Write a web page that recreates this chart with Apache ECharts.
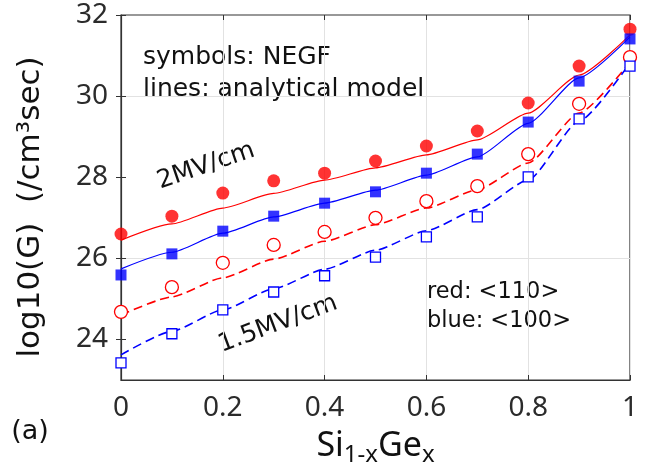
<!DOCTYPE html>
<html>
<head>
<meta charset="utf-8">
<script src="https://cdn.jsdelivr.net/npm/echarts@6/dist/echarts.min.js"></script>
<style>
  body { margin: 0; background: #fff; }
  #chart { width: 660px; height: 470px; }
</style>
</head>
<body>
<div id="chart"></div>
<script>
// Ge fraction x
const xs = [0, 0.1, 0.2, 0.3, 0.4, 0.5, 0.6, 0.7, 0.8, 0.9, 1.0];
const yTicks = [24, 26, 28, 30, 32];

// NEGF symbols
const negf110High = [26.6, 27.04, 27.61, 27.91, 28.1, 28.4, 28.77, 29.14, 29.83, 30.74, 31.65];
const negf100High = [25.59, 26.11, 26.67, 27.04, 27.36, 27.64, 28.1, 28.57, 29.36, 30.37, 31.41];
const negf110Low = [24.68, 25.29, 25.89, 26.33, 26.65, 27.0, 27.41, 27.78, 28.57, 29.81, 30.96];
const negf100Low = [23.42, 24.14, 24.73, 25.17, 25.57, 26.03, 26.53, 27.02, 28.01, 29.44, 30.74];

// analytical model lines
const model110High = [26.45, 26.85, 27.24, 27.6, 27.93, 28.23, 28.55, 28.92, 29.58, 30.52, 31.51];
const model100High = [25.74, 26.15, 26.62, 27.02, 27.36, 27.68, 28.05, 28.5, 29.33, 30.45, 31.46];
const model110Low = [24.6, 25.05, 25.52, 25.98, 26.42, 26.83, 27.24, 27.69, 28.35, 29.58, 30.84];
const model100Low = [23.62, 24.2, 24.73, 25.25, 25.73, 26.2, 26.68, 27.2, 27.93, 29.38, 30.82];

const RED = '#ff0000';
const BLUE = '#0000ff';
const FONT = '"Noto Sans", "Open Sans", sans-serif';
const WIDE = '"DejaVu Sans", "Noto Sans", sans-serif';

const pairs = (ys) => xs.map((x, i) => [x, ys[i]]);

const lineSeries = (ys, color, dashed) => ({
  type: 'line',
  data: pairs(ys),
  showSymbol: false,
  smooth: 0.2,
  smoothMonotone: 'x',
  lineStyle: { color: color, width: dashed ? 1.6 : 1.2, type: dashed ? [9, 5] : 'solid' },
  z: 2
});

const symbolSeries = (ys, color, shape, filled, size) => ({
  type: 'scatter',
  data: pairs(ys),
  symbol: shape,
  symbolSize: size,
  itemStyle: filled
    ? { color: color }
    : { color: '#fff', opacity: 1, borderColor: color, borderWidth: 1.3 },
  z: 3
});

const label = (text, x, y, size, rot, align) => ({
  type: 'text', x: x, y: y, rotation: rot || 0,
  style: { text: text, fontSize: size, fill: '#111', fontFamily: WIDE,
    align: align || 'left', verticalAlign: 'middle' }
});

const chart = echarts.init(document.getElementById('chart'));

const option = {
  animation: false,
  textStyle: { fontFamily: FONT },
  grid: {
    left: 121, right: 30, top: 15, bottom: 90,
    outerBoundsMode: 'none', containLabel: false,
    show: true, borderColor: '#333', borderWidth: 1.2
  },
  xAxis: [{
    type: 'value',
    min: 0, max: 1, interval: 0.2,
    name: '{a|Si}{s|1-x}{a|Ge}{s|x}',
    nameLocation: 'middle',
    nameGap: 45,
    nameTextStyle: {
      rich: {
        a: { fontSize: 34, color: '#111', fontFamily: FONT },
        s: { fontSize: 24, color: '#111', fontFamily: FONT, padding: [18, 0, 0, 0] }
      }
    },
    axisLine: { show: true, lineStyle: { color: '#333', width: 1.2 } },
    axisTick: { inside: true, length: 5, lineStyle: { color: '#333' } },
    axisLabel: { fontSize: 28, color: '#2b2b2b', margin: 14, fontFamily: FONT,
      formatter: (v) => String(Math.round(v * 10) / 10) },
    splitLine: { show: true, lineStyle: { color: '#e2e2e2', width: 1 } }
  }, {
    type: 'value', position: 'top',
    min: 0, max: 1, interval: 0.2,
    axisLine: { show: false },
    axisTick: { inside: true, length: 5, lineStyle: { color: '#333' } },
    axisLabel: { show: false },
    splitLine: { show: false }
  }],
  yAxis: [{
    type: 'value',
    min: 23, max: 32, interval: 1,
    axisLine: { show: true, lineStyle: { color: '#333', width: 1.2 } },
    axisTick: { inside: true, length: 5, customValues: yTicks, lineStyle: { color: '#333' } },
    axisLabel: { fontSize: 28, color: '#2b2b2b', margin: 13, fontFamily: FONT,
      formatter: (v) => (yTicks.indexOf(v) >= 0 ? String(v) : '') },
    splitLine: { show: true, lineStyle: { color: ['transparent', '#e2e2e2'], width: 1 } }
  }, {
    type: 'value', position: 'right',
    min: 23, max: 32, interval: 1,
    axisLine: { show: false },
    axisTick: { inside: true, length: 5, customValues: yTicks, lineStyle: { color: '#333' } },
    axisLabel: { show: false },
    splitLine: { show: false }
  }],
  series: [
    lineSeries(model110High, RED, false),
    lineSeries(model100High, BLUE, false),
    lineSeries(model110Low, RED, true),
    lineSeries(model100Low, BLUE, true),
    symbolSeries(negf110High, RED, 'circle', true, 13),
    symbolSeries(negf100High, BLUE, 'rect', true, 11),
    symbolSeries(negf110Low, RED, 'circle', false, 13),
    symbolSeries(negf100Low, BLUE, 'rect', false, 10)
  ],
  graphic: [
    label('log10(G)  (/cm³sec)', 31, 207, 31, Math.PI / 2, 'center'),
    label('symbols: NEGF', 143, 57, 25),
    label('lines: analytical model', 143, 89, 25),
    label('2MV/cm', 206, 166, 25, 0.33, 'center'),
    label('1.5MV/cm', 278, 324, 25, 0.36, 'center'),
    label('red: <110>', 427, 292, 22.5),
    label('blue: <100>', 427, 321, 22.5),
    label('(a)', 30, 432, 27, 0, 'center')
  ]
};

chart.setOption(option);
</script>
</body>
</html>
